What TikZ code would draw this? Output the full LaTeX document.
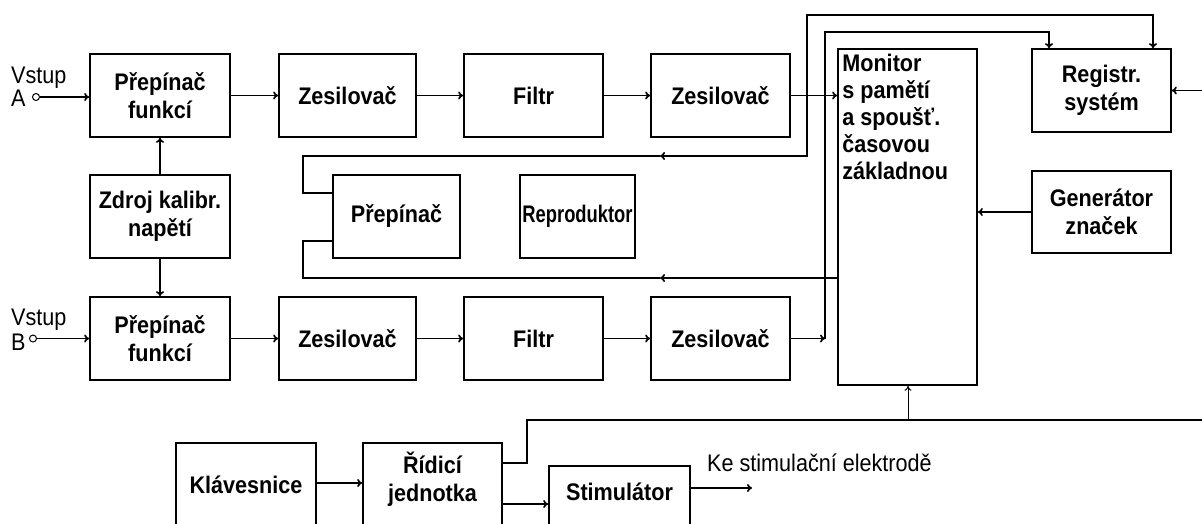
\documentclass[tikz,border=0pt]{standalone}
\usepackage{fontspec}
\setmainfont{Liberation Sans}[FakeStretch=0.9]
\usetikzlibrary{arrows.meta}
\begin{document}
\begin{tikzpicture}[x=1pt,y=-1pt,
  box/.style={draw, line width=1.7pt, font=\bfseries\fontsize{24}{28}\selectfont, align=center, inner sep=0pt},
  ln/.style={line width=1.7pt},
  arr/.style={ln, -{To[length=5pt,width=8pt]}},
  thinarr/.style={line width=1pt, -{To[length=5pt,width=7pt]}},
  lbl/.style={font=\fontsize{24}{28}\selectfont, inner sep=0pt},
  term/.style={draw, circle, line width=1pt, minimum size=7pt, inner sep=0pt}]
\useasboundingbox (0,0) rectangle (1202,523);
\clip (0,0) rectangle (1202,523);

% boxes
\node[box, minimum width=140pt, minimum height=83pt] (pfA) at (160,95.5) {Přepínač\\funkcí};
\node[box, minimum width=137pt, minimum height=83pt] (zA1) at (347.5,95.5) {Zesilovač};
\node[box, minimum width=139pt, minimum height=83pt] (fA) at (533.5,95.5) {Filtr};
\node[box, minimum width=139pt, minimum height=83pt] (zA2) at (720.5,95.5) {Zesilovač};
\node[box, minimum width=139pt, minimum height=336pt] (mon) at (907.5,217) {};
\node[lbl, font=\bfseries\fontsize{24}{27}\selectfont, align=left, anchor=north west] (montxt) at ([xshift=5pt,yshift=-6pt]mon.north west) {Monitor\\s pamětí\\a spoušť.\\časovou\\základnou};
\node[box, minimum width=139pt, minimum height=83pt] (reg) at (1101.5,90.5) {Registr.\\systém};
\node[box, minimum width=139pt, minimum height=82pt] (gen) at (1101.5,212) {Generátor\\značek};
\node[box, minimum width=140pt, minimum height=83pt] (zdroj) at (160,216.5) {Zdroj kalibr.\\napětí};
\node[box, minimum width=127pt, minimum height=83pt] (prep) at (396.5,216.5) {Přepínač};
\node[box, minimum width=115pt, minimum height=83pt] (rep) at (577.5,216.5) {\scalebox{0.85}[1]{Reproduktor}};
\node[box, minimum width=140pt, minimum height=83pt] (pfB) at (160,338.5) {Přepínač\\funkcí};
\node[box, minimum width=137pt, minimum height=83pt] (zB1) at (347.5,338.5) {Zesilovač};
\node[box, minimum width=139pt, minimum height=83pt] (fB) at (533.5,338.5) {Filtr};
\node[box, minimum width=139pt, minimum height=83pt] (zB2) at (720.5,338.5) {Zesilovač};
\node[box, minimum width=140pt, minimum height=84pt] (kl) at (246,485) {Klávesnice};
\node[box, minimum width=139pt, minimum height=84pt] (rj) at (432.5,485) {Řídicí\\jednotka\rule[-16pt]{0pt}{1pt}};
\node[box, minimum width=141pt, minimum height=61pt] (st) at (619.5,496.5) {\raisebox{9pt}{Stimulátor}};

% inputs
\node[lbl, anchor=base west] (vA) at (11,83) {Vstup};
\node[lbl, anchor=base west] (lA) at (11,106) {A};
\node[term] (cA) at (36,97) {};
\node[lbl, anchor=base west] (vB) at (11,325) {Vstup};
\node[lbl, anchor=base west] (lB) at (11,350) {B};
\node[term] (cB) at (33,338.5) {};
\draw[arr] (cA) -- (cA -| pfA.west);
\draw[arr] (cB) -- (cB -| pfB.west);

% channel chains
\draw[arr] (pfA.east) -- (zA1.west);
\draw[arr] (zA1.east) -- (fA.west);
\draw[arr] (fA.east) -- (zA2.west);
\draw[arr] (zA2.east) -- (zA2.east -| mon.west);
\draw[arr] (pfB.east) -- (zB1.west);
\draw[arr] (zB1.east) -- (fB.west);
\draw[arr] (fB.east) -- (zB2.west);
\coordinate (jB) at (825,338.5);
\draw[arr] (zB2.east) -- (jB);
\draw[arr] (zdroj.north) -- (pfA.south);
\draw[arr] (zdroj.south) -- (pfB.north);

% to registration system
\coordinate (jA) at (807,95.5);
\coordinate (tA) at (1153,15);
\coordinate (tB) at (1049,32);
\draw[arr] (jA) |- (tA) -- (tA |- reg.north);
\draw[arr] (jB) |- (tB) -- (tB |- reg.north);
\coordinate (rin) at (1202,90.5);
\draw[arr] (rin) -- (reg.east);
\draw[arr] (gen.west) -- (gen.west -| mon.east);

% loops to Prepinac
\coordinate (mA) at (660,156);
\coordinate (p1) at (333,193);
\draw[arr] (jA) |- (mA);
\draw[ln] (mA) -- (303,156) |- (p1);
\coordinate (m0) at (838,278);
\coordinate (mB) at (660,278);
\coordinate (p2) at (333,241);
\draw[arr] (m0) -- (mB);
\draw[ln] (mB) -- (303,278) |- (p2);

% bottom
\coordinate (k1) at (316,483);
\draw[arr] (k1) -- (k1 -| rj.west);
\coordinate (r1) at (502,463);
\coordinate (r2) at (502,504);
\coordinate (bus) at (1202,420);
\coordinate (m1) at (908,420);
\draw[ln] (r1) -| (527,420) -- (bus);
\draw[thinarr] (m1) -- (m1 |- mon.south);
\draw[arr] (r2) -- (r2 -| st.west);
\coordinate (s1) at (690,488);
\coordinate (s2) at (752,488);
\draw[arr] (s1) -- (s2);
\node[lbl, anchor=base west] (ke) at (707,471) {Ke stimulační elektrodě};
\end{tikzpicture}
\end{document}
